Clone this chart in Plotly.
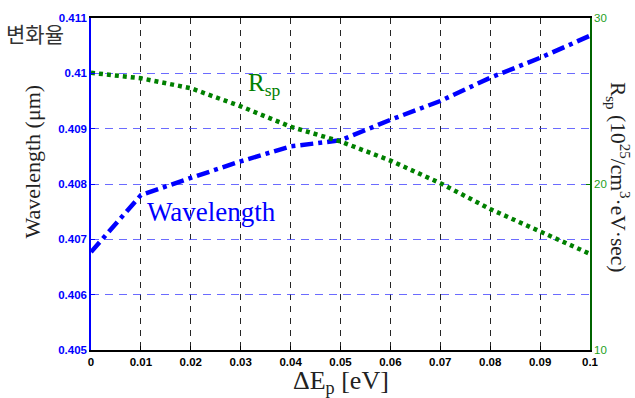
import plotly.graph_objects as go

x_vals = [0, 0.01, 0.02, 0.03, 0.04, 0.05, 0.06, 0.07, 0.08, 0.09, 0.1]
wavelength = [0.40677, 0.40780, 0.40811, 0.40841, 0.40868, 0.40879, 0.40916, 0.40950, 0.40992, 0.41028, 0.41068]
rsp = [26.70, 26.37, 25.77, 24.68, 23.45, 22.56, 21.41, 20.05, 18.49, 17.14, 15.79]
x_ticks = [0, 0.01, 0.02, 0.03, 0.04, 0.05, 0.06, 0.07, 0.08, 0.09, 0.1]
x_tick_text = ["0", "0.01", "0.02", "0.03", "0.04", "0.05", "0.06", "0.07", "0.08", "0.09", "0.1"]
y_ticks = [0.405, 0.406, 0.407, 0.408, 0.409, 0.41, 0.411]
y_tick_text = ["0.405", "0.406", "0.407", "0.408", "0.409", "0.41", "0.411"]
y2_ticks = [10, 20, 30]

BLUE = "#0000ff"
GREEN = "#008000"
SERIF = "Liberation Serif"
SANS = "Liberation Sans"

fig = go.Figure()
fig.add_trace(go.Scatter(x=x_vals, y=wavelength, mode="lines",
                         line=dict(color=BLUE, width=4.5, dash="13px,5px,4px,5px"),
                         showlegend=False))
fig.add_trace(go.Scatter(x=x_vals, y=rsp, mode="lines", yaxis="y2",
                         line=dict(color=GREEN, width=4.5, dash="4px,4px"),
                         showlegend=False))

fig.update_layout(
    width=635, height=398,
    margin=dict(l=91, r=45, t=14, b=48),
    paper_bgcolor="white", plot_bgcolor="white",
    font=dict(family=SERIF),
    xaxis=dict(range=[0, 0.1], tickvals=x_ticks, ticktext=x_tick_text,
               showgrid=True, gridcolor="rgba(0,0,0,0.85)", griddash="6px,6px", gridwidth=1,
               showline=True, linecolor="black", linewidth=1.5, mirror=True,
               ticks="inside", ticklen=4, tickcolor="black",
               tickfont=dict(family=SANS, size=11.5, color="black", weight="bold"),
               zeroline=False),
    yaxis=dict(range=[0.405, 0.411], tickvals=y_ticks, ticktext=y_tick_text,
               showgrid=True, gridcolor="rgba(70,70,255,0.8)", griddash="8px,6px", gridwidth=1,
               showline=True, linecolor=BLUE, linewidth=1.5,
               ticks="inside", ticklen=4, tickcolor=BLUE,
               tickfont=dict(family=SANS, size=11.5, color=BLUE, weight="bold"),
               zeroline=False),
    yaxis2=dict(range=[10, 30], tickvals=y2_ticks, overlaying="y", side="right",
                showgrid=False, showline=True, linecolor="#006400", linewidth=1.5,
                ticks="inside", ticklen=4, tickcolor=GREEN,
                tickfont=dict(family=SANS, size=11.5, color="#22a022"),
                zeroline=False),
)

# axis titles
fig.add_annotation(x=0.5, y=0, xref="paper", yref="paper", yshift=-32,
                   text="ΔE<sub>p</sub> [eV]", showarrow=False,
                   xanchor="center", yanchor="middle",
                   font=dict(family=SERIF, size=26, color="#222"))
fig.add_annotation(x=0, y=0.568, xref="paper", yref="paper", xshift=-59,
                   text="Wavelength (μm)", textangle=-90, showarrow=False,
                   xanchor="center", yanchor="middle",
                   font=dict(family=SERIF, size=22, color="#222"))
fig.add_annotation(x=1.0, xref="paper", xshift=28, y=0.815, yref="paper",
                   text="R<sub>sp</sub> (10<sup>25</sup>/cm<sup>3</sup>·eV·sec)",
                   textangle=90, showarrow=False, xanchor="center", yanchor="top",
                   font=dict(family=SERIF, size=21.5, color="#222"))

# in-plot labels
fig.add_annotation(x=0.0108, y=0.40750, xref="x", yref="y", text="Wavelength",
                   showarrow=False, xanchor="left", yanchor="middle",
                   font=dict(family=SERIF, size=27, color=BLUE))
fig.add_annotation(x=0.031, y=26.0, xref="x", yref="y2", text="R<sub>sp</sub>",
                   showarrow=False, xanchor="left", yanchor="middle",
                   font=dict(family=SERIF, size=25, color=GREEN))
fig.add_annotation(x=0, y=0.955, xref="paper", yref="paper", xshift=-87, text="변화율",
                   showarrow=False, xanchor="left", yanchor="middle",
                   font=dict(family="Noto Sans CJK KR", size=21, color="#333"))

fig.write_html("out.html")
